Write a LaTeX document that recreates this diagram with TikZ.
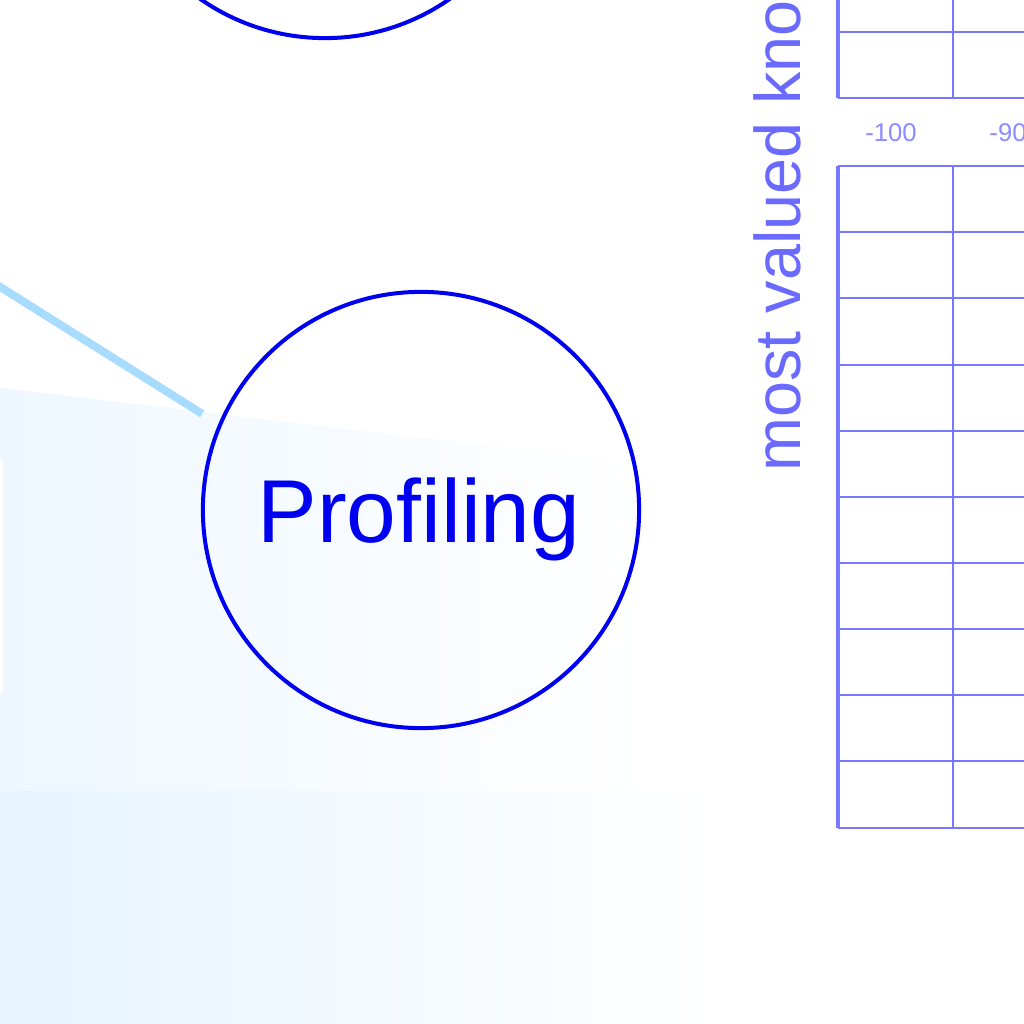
\documentclass[tikz,border=0pt]{standalone}
\usepackage{fontspec}
\setmainfont{Liberation Sans}
\usetikzlibrary{positioning}

\definecolor{inkblue}{HTML}{0000F0}
\definecolor{gridblue}{HTML}{7777FF}
\definecolor{ticklab}{HTML}{8C8CFF}
\definecolor{axislab}{HTML}{6A6AFF}
\definecolor{linkblue}{HTML}{A8DCFF}
\definecolor{washA}{HTML}{EEF7FF}
\definecolor{washB}{HTML}{E6F4FF}

\tikzset{
  bubble/.style={circle, draw=inkblue, line width=0.04cm, minimum size=4.36cm,
    inner sep=0pt},
  bubbletext/.style={text=inkblue, inner sep=0pt, font=\fontsize{25.4}{28}\selectfont},
  link/.style={draw=linkblue, line width=0.08cm, shorten >=0.19cm},
  gridline/.style={draw=gridblue, line width=0.025cm},
  ticktext/.style={text=ticklab, inner sep=0pt, font=\fontsize{7.3}{9}\selectfont},
}

\begin{document}
\begin{tikzpicture}[x=0.01cm,y=0.01cm]
\clip (0,0) rectangle (1024,1024);
\fill[white] (0,0) rectangle (1024,1024);
% soft wash behind the lower left
\shade[left color=washA, right color=white] (0,636) -- (650,559) -- (650,0) -- (0,0) -- cycle;
\shade[left color=washB, right color=white] (0,0) rectangle (720,232);
\fill[white] (0,331) rectangle (3,564);

% circles
\node[bubble] (top) at (325,1204) {};
\node[bubble] (prof) at (421,514) {};
\node[bubbletext] (proflabel) at (419,505) {Profiling};
\coordinate (src) at (-100,800);
\draw[link] (src) -- (prof.157);

% grid, upper block
\draw[gridblue, line width=0.035cm] (838,1030) -- (838,926);
\draw[gridline] (953,1030) -- (953,926);
\draw[gridline] (838,992) -- (1030,992);
\draw[gridline] (838,926) -- (1030,926);

% tick labels
\node[ticktext] (t100) at (891,891) {-100};
\node[ticktext] (t90) at (1008,891) {-90};

% grid, lower block
\draw[gridblue, line width=0.035cm] (838,858) -- (838,196);
\draw[gridline] (953,858) -- (953,196);
\draw[gridline] (838,858) -- (1030,858);
\draw[gridline] (838,792) -- (1030,792);
\draw[gridline] (838,726) -- (1030,726);
\draw[gridline] (838,659) -- (1030,659);
\draw[gridline] (838,593) -- (1030,593);
\draw[gridline] (838,527) -- (1030,527);
\draw[gridline] (838,461) -- (1030,461);
\draw[gridline] (838,395) -- (1030,395);
\draw[gridline] (838,329) -- (1030,329);
\draw[gridline] (838,263) -- (1030,263);
\draw[gridline] (838,196) -- (1030,196);

% axis title
\node[rotate=90, anchor=base west, inner sep=0pt, text=axislab,
  font=\fontsize{18.4}{22}\selectfont] (ytitle) at (800,552) {most valued knowledge};
\end{tikzpicture}
\end{document}
